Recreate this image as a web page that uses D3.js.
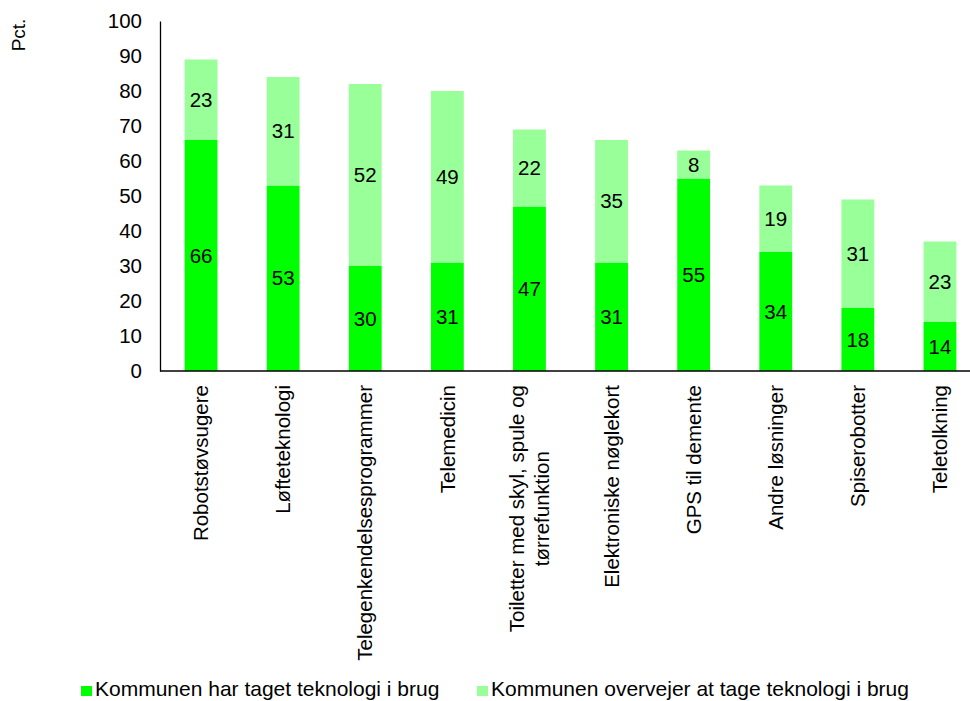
<!DOCTYPE html>
<html>
<head>
<meta charset="utf-8">
<script src="https://cdn.jsdelivr.net/npm/d3@7"></script>
<style>
  html, body { margin: 0; padding: 0; background: #fff; overflow: hidden; }
  svg { display: block; font-family: "Liberation Sans", Arial, sans-serif; }
</style>
</head>
<body>
<svg id="chart" width="970" height="701"></svg>
<script>
// Categories (multi-line labels split with "\n")
const categories = [
  "Robotstøvsugere",
  "Løfteteknologi",
  "Telegenkendelsesprogrammer",
  "Telemedicin",
  "Toiletter med skyl, spule og\ntørrefunktion",
  "Elektroniske nøglekort",
  "GPS til demente",
  "Andre løsninger",
  "Spiserobotter",
  "Teletolkning"
];
const inUse = [66, 53, 30, 31, 47, 31, 55, 34, 18, 14];
const considering = [23, 31, 52, 49, 22, 35, 8, 19, 31, 23];
const seriesNames = ["Kommunen har taget teknologi i brug", "Kommunen overvejer at tage teknologi i brug"];
const yTicks = [0, 10, 20, 30, 40, 50, 60, 70, 80, 90, 100];
const yLabel = "Pct.";

const colors = ["#00ff00", "#99ff99"];
const fontSize = 20.5;

const svg = d3.select("#chart");
const plotLeft = 160, plotTop = 21, plotBottom = 371, plotRight = 981;

const x = d3.scaleBand().domain(d3.range(categories.length)).range([plotLeft, plotRight]).paddingInner(0.6).paddingOuter(0.3);
const y = d3.scaleLinear().domain([0, 100]).range([plotBottom, plotTop]);

const rows = categories.map((c, i) => ({ i, a: inUse[i], b: considering[i] }));
const stack = d3.stack().keys(["a", "b"])(rows);

const g = svg.append("g");
stack.forEach((layer, k) => {
  g.selectAll(null).data(layer).enter().append("rect")
    .attr("x", d => x(d.data.i))
    .attr("width", x.bandwidth())
    .attr("y", d => y(d[1]))
    .attr("height", d => y(d[0]) - y(d[1]))
    .attr("fill", colors[k]);
  g.selectAll(null).data(layer).enter().append("text")
    .attr("x", d => x(d.data.i) + x.bandwidth() / 2)
    .attr("y", d => (y(d[0]) + y(d[1])) / 2)
    .attr("dy", "0.35em")
    .attr("text-anchor", "middle")
    .attr("font-size", fontSize)
    .attr("fill", "#000")
    .text(d => d[1] - d[0]);
});

// Y axis
const yAxis = svg.append("g").attr("transform", `translate(${plotLeft},0)`)
  .call(d3.axisLeft(y).tickValues(yTicks).tickSize(0).tickPadding(18));
yAxis.select(".domain").attr("stroke", "#000").attr("stroke-width", 1.3);
yAxis.selectAll("text").attr("font-size", fontSize).attr("fill", "#000")
  .attr("font-family", "Liberation Sans, Arial, sans-serif");

// X axis line
svg.append("line").attr("x1", plotLeft).attr("x2", 970).attr("y1", plotBottom).attr("y2", plotBottom)
  .attr("stroke", "#000").attr("stroke-width", 1.3);

// Category labels, rotated; extra lines centred under the first
categories.forEach((c, i) => {
  const lines = c.split("\n");
  const cx = x(i) + x.bandwidth() / 2;
  const lh = 25;
  const t = svg.append("text")
    .attr("transform", `translate(${cx},385) rotate(-90)`)
    .attr("font-size", fontSize)
    .attr("fill", "#000");
  const spans = lines.map((ln, j) => t.append("tspan")
    .attr("x", 0)
    .attr("y", (j - (lines.length - 1) / 2) * lh)
    .attr("dy", "0.35em")
    .attr("text-anchor", j === 0 ? "end" : "middle")
    .text(ln));
  if (spans.length > 1) {
    const firstLen = spans[0].node().getComputedTextLength();
    spans.slice(1).forEach(s => s.attr("x", -firstLen / 2));
  }
});

// Y label
svg.append("text")
  .attr("transform", "translate(25,35) rotate(-90)")
  .attr("text-anchor", "middle")
  .attr("font-size", 19)
  .text(yLabel);

// Legend
const legendX = [81, 477];
seriesNames.forEach((n, k) => {
  svg.append("rect").attr("x", legendX[k]).attr("y", 686).attr("width", 11).attr("height", 10).attr("fill", colors[k]);
  svg.append("text").attr("x", legendX[k] + 14).attr("y", 696)
    .attr("font-size", 21).text(n);
});
</script>
</body>
</html>
